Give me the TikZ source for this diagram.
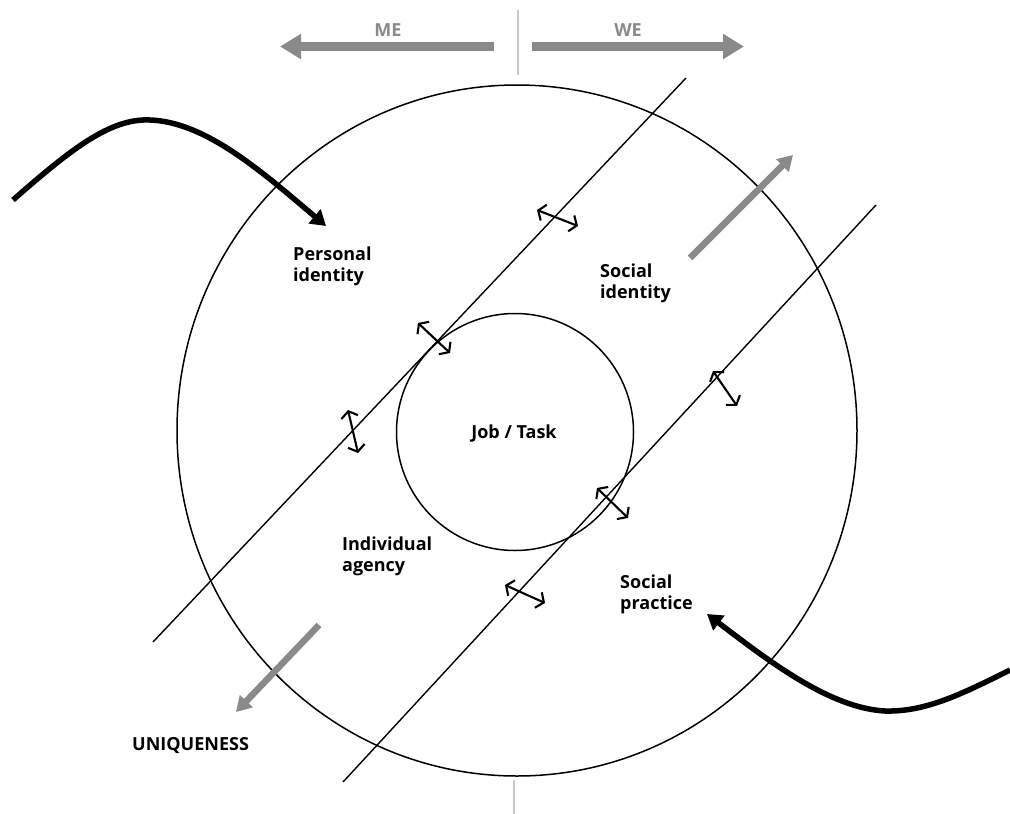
\documentclass[tikz,border=0pt]{standalone}
\usepackage{fontspec}
\setmainfont{Open Sans}
\usetikzlibrary{arrows.meta,positioning,shapes.geometric}
\definecolor{arrowgray}{RGB}{138,138,138}
\definecolor{rulegray}{RGB}{200,200,200}

\begin{document}
\begin{tikzpicture}[x=1pt,y=-1pt]
\tikzset{ring/.style={draw,line width=1.5pt,inner sep=0pt},
  tangent/.style={line width=1.4pt},
  swap/.style={line width=2.1pt,{Straight Barb[length=6pt,width=17pt]}-{Straight Barb[length=6pt,width=17pt]}},
  drift/.style={draw=arrowgray,line width=6.5pt,-{Triangle[length=15pt,width=17pt]}},
  sides/.style={draw=arrowgray,line width=9pt,-{Triangle[length=21pt,width=24pt]}},
  push/.style={line width=5.5pt,-{Triangle[length=15pt,width=18pt]}},
  lbl/.style={font=\bfseries\fontsize{18}{21}\selectfont,align=left,anchor=north west,inner sep=0pt},
  side/.style={font=\bfseries\fontsize{18}{21}\selectfont,text=arrowgray,inner sep=0pt}}
\path[use as bounding box,fill=white] (0,0) rectangle (1010,814);
\draw[rulegray,line width=1.2pt] (518,10) -- (518,75);
\draw[rulegray,line width=1.2pt] (514,780) -- (514,814);
\draw[sides] (494,46.5) -- (280,46.5);
\draw[sides] (532,46.5) -- (744,46.5);
\node[side] (me) at (388,30) {ME};
\node[side] (we) at (628,30) {WE};
\node[ring,ellipse,minimum width=680pt,minimum height=691pt] (outer) at (517,430.5) {};
\node[ring,circle,minimum size=237pt] (core) at (515,432) {};
\node[font=\bfseries\fontsize{18}{21}\selectfont,inner sep=0pt] (task) at (514,434) {Job / Task};
\draw[tangent] (153,642) -- (686,78);
\draw[tangent] (343,782) -- (876,205);
\draw[swap] (537,210) -- (578,226);
\draw[swap] (418,323) -- (450,353);
\draw[swap] (348,410) -- (358,453);
\draw[swap] (713,371) -- (737,406);
\draw[swap] (597,488) -- (628,518);
\draw[swap] (505,585) -- (545,603);
\draw[drift] (690,258) -- (793,155);
\draw[drift] (319,625) -- (236,712);
\node[lbl] (personal) at (293,247) {Personal\\identity};
\node[lbl] (social) at (600,264) {Social\\identity};
\node[lbl] (agency) at (342,537) {Individual\\agency};
\node[lbl] (practice) at (620,575) {Social\\practice};
\node[lbl] (unique) at (132,737) {UNIQUENESS};
\coordinate (inL) at (13,200);
\coordinate (inR) at (1010,670);
\draw[push] (inL) .. controls (70,150) and (110,118) .. (150,120) .. controls (205,122) and (260,170) .. (326,226);
\draw[push] (inR) .. controls (960,695) and (925,712) .. (885,711) .. controls (830,708) and (770,662) .. (707,614);
\end{tikzpicture}
\end{document}
